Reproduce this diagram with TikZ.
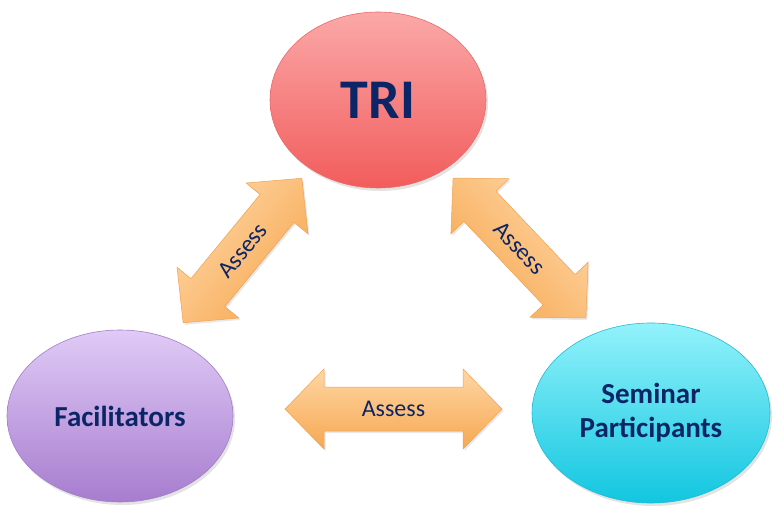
\documentclass[tikz,border=0pt]{standalone}
\usepackage{fontspec}
\setmainfont{Carlito}
\usetikzlibrary{shapes.geometric,shadows}
\definecolor{navy}{HTML}{0B2566}
\definecolor{redtop}{HTML}{FBA8A8}
\definecolor{redbot}{HTML}{F25C5C}
\definecolor{redline}{HTML}{E86A6A}
\definecolor{purtop}{HTML}{E0CAF6}
\definecolor{purbot}{HTML}{A77DCF}
\definecolor{purline}{HTML}{A27CC8}
\definecolor{cyantop}{HTML}{92F2FB}
\definecolor{cyanbot}{HTML}{12C6E0}
\definecolor{cyanline}{HTML}{22BCD2}
\definecolor{ortop}{HTML}{FFD6A4}
\definecolor{ormid}{HTML}{FFC784}
\definecolor{orbot}{HTML}{F6A852}
\definecolor{orline}{HTML}{F0A250}
\tikzset{
  blob/.style={ellipse, inner sep=0pt, draw=#1, line width=0.6pt,
    drop shadow={opacity=0.22, shadow xshift=2pt, shadow yshift=-3pt},
    font=\bfseries, text=navy, align=center},
  arrowbody/.style={draw=orline, line width=0.5pt, top color=ortop, middle color=ormid, bottom color=orbot,
    drop shadow={opacity=0.18, shadow xshift=1.5pt, shadow yshift=-2pt}},
  arrowtext/.style={font=\fontsize{24}{28}\selectfont, text=navy, transform shape, inner sep=0pt}
}
\newcommand\assessarrow[4]{%
\begin{scope}[shift={#1}, rotate=#2]
  \path[arrowbody, shading angle=#2] (-#3,0) -- (-#3+39,40) -- (-#3+39,22) -- (#3-39,22) -- (#3-39,40) -- (#3,0)
     -- (#3-39,-40) -- (#3-39,-22) -- (-#3+39,-22) -- (-#3+39,-40) -- cycle;
  \node[arrowtext] (#4) at (0,0) {Assess};
\end{scope}}
\begin{document}
\begin{tikzpicture}[x=1pt,y=1pt]
\useasboundingbox (0,0) rectangle (784,520);
\node[blob=redline, top color=redtop, bottom color=redbot, minimum width=216pt, minimum height=176pt,
  font=\bfseries\fontsize{56}{60}\selectfont] (tri) at (378,420) {TRI};
\node[blob=purline, top color=purtop, bottom color=purbot, minimum width=226pt, minimum height=172pt,
  font=\bfseries\fontsize{29}{34}\selectfont] (fac) at (120,104) {Facilitators};
\node[blob=cyanline, top color=cyantop, bottom color=cyanbot, minimum width=238pt, minimum height=180pt,
  font=\bfseries\fontsize{29}{34}\selectfont] (sem) at (651,107) {Seminar\\Participants};
\assessarrow{(393.5,111)}{0}{108.5}{a3}
\assessarrow{(242.5,269.5)}{50.6}{93.5}{a1}
\assessarrow{(519.5,272)}{-46.5}{96.5}{a2}
\end{tikzpicture}
\end{document}
